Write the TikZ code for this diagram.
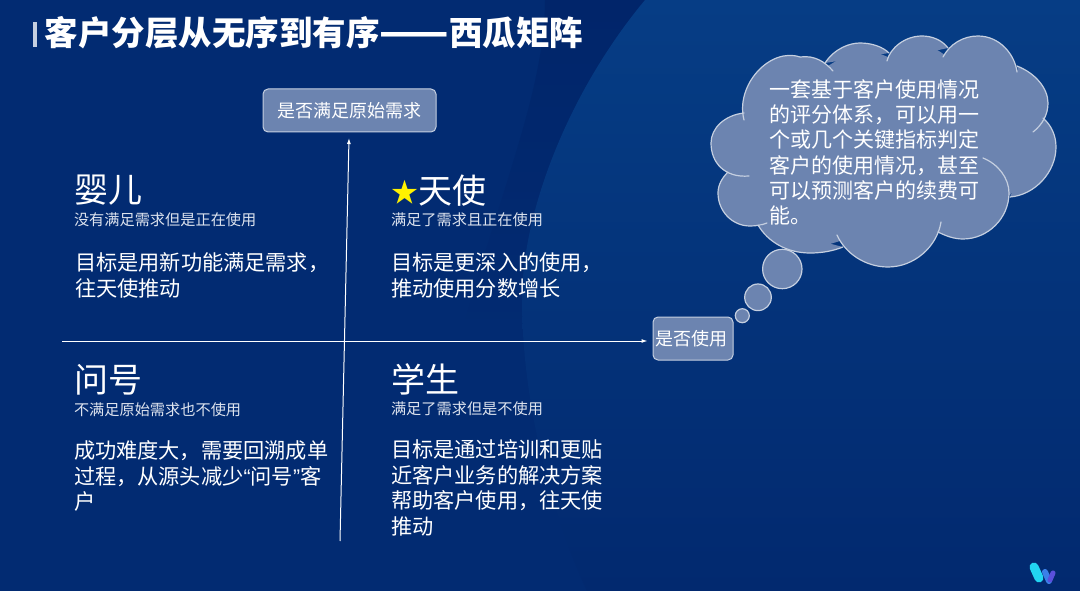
\documentclass[tikz,border=0pt]{standalone}
\usepackage{fontspec}
\setmainfont{Noto Sans CJK SC}
\newfontfamily\latinq{Liberation Sans}
\usetikzlibrary{arrows.meta}
\definecolor{bgdark}{HTML}{022B72}
\definecolor{bgband}{HTML}{01256A}
\definecolor{bgtop}{HTML}{063D85}
\definecolor{bgbot}{HTML}{02296F}
\definecolor{boxfill}{HTML}{6C84B0}
\definecolor{boxline}{HTML}{C5CFE0}
\definecolor{subtext}{HTML}{DDE3EE}
\definecolor{logoa}{HTML}{22D5F2}
\definecolor{logob}{HTML}{3A80E8}
\definecolor{logoc}{HTML}{5A50DC}
\tikzset{
  x=1pt,y=-1pt,
  txt/.style={text=white,inner sep=0pt,outer sep=0pt,anchor=north west,align=left},
  head/.style={txt,font=\fontsize{34}{34}\selectfont},
  sub/.style={txt,text=subtext,font=\fontsize{15.2}{18}\selectfont},
  body/.style={txt,font=\fontsize{21.2}{25.4}\selectfont},
  tag/.style={draw=boxline,fill=boxfill,line width=1pt,rounded corners=5pt,text=white,inner sep=0pt,font=\fontsize{18}{18}\selectfont},
  axis/.style={draw=white,line width=1pt,-{Latex[length=6pt,width=4pt]}},
  lobe/.style={draw=boxline,line width=1.2pt,line cap=round},
  puff/.style={circle,draw=boxline,fill=boxfill,line width=1.2pt,inner sep=0pt},
}
\def\la{(744,120) .. controls (735,85) and (770,47) .. (800,57) .. controls (815,55) and (825,62) .. (833,71)}
\def\lb{(825,63) .. controls (835,48) and (850,43) .. (860,43) .. controls (872,43) and (883,47) .. (889,53)}
\def\lc{(887,61) .. controls (890,48) and (905,36) .. (922,36) .. controls (932,36) and (942,40) .. (948,48)}
\def\ld{(943,57) .. controls (950,44) and (963,36) .. (978,36) .. controls (1000,36) and (1015,55) .. (1017,72)}
\def\le{(1017,66) .. controls (1035,73) and (1048,88) .. (1048,103) .. controls (1048,115) and (1042,125) .. (1033,132)}
\def\lf{(1043,118) .. controls (1051,125) and (1056,135) .. (1056,147) .. controls (1056,172) and (1035,195) .. (1010,197)}
\def\lg{(983,158) .. controls (998,164) and (1009,178) .. (1009,193) .. controls (1009,218) and (988,239) .. (963,239) .. controls (954,239) and (946,236) .. (938,232)}
\def\lh{(941,222) .. controls (937,247) and (914,267) .. (888,267) .. controls (865,267) and (845,253) .. (837,235)}
\def\li{(843,247) .. controls (833,251) and (822,253) .. (810,253) .. controls (787,253) and (768,242) .. (758,225)}
\def\lj{(767,223) .. controls (762,225) and (756,226) .. (750,226) .. controls (732,226) and (718,211) .. (718,193) .. controls (718,185) and (722,178) .. (728,172)}
\def\lk{(749,176) .. controls (725,178) and (711,163) .. (711,143) .. controls (711,128) and (725,115) .. (744,113)}
\begin{document}
\begin{tikzpicture}
\useasboundingbox (0,0) rectangle (1080,591);
\fill[bgdark] (0,0) rectangle (1080,591);
\shade[top color=bgband,bottom color=bgdark] (545,0) .. controls (545,90) and (500,190) .. (460,340) -- (540,340) -- (645,0) -- cycle;
\shade[top color=bgtop,bottom color=bgbot] (645,0) .. controls (570,90) and (522,210) .. (522,300) .. controls (522,400) and (550,510) .. (587,591) -- (1080,591) -- (1080,0) -- cycle;
% title
\fill[boxline] (33,22) rectangle (37,47);
\node[txt,font=\fontsize{33.5}{34}\selectfont\bfseries] (title) at (45,16) {客户分层从无序到有序{\fontsize{40.5}{34}\selectfont\raisebox{-1pt}{——}}西瓜矩阵};
% axes
\node[tag,minimum width=173pt,minimum height=43pt] (ytag) at (349.5,110.5) {是否满足原始需求};
\node[tag,minimum width=80pt,minimum height=43pt] (xtag) at (693,338.5) {\hspace*{-3pt}是否使用};
\coordinate (ystart) at (340,541);
\coordinate (xstart) at (62,341);
\coordinate (ytip) at (349,138);
\draw[axis] (ystart) -- (ytip);
\draw[axis,shorten >=5pt] (xstart) -- (xstart -| xtag.west);
% quadrants
\node[head] (q1) at (74,175) {婴儿};
\node[sub] (q1s) at (74,213) {没有满足需求但是正在使用};
\node[body] (q1b) at (75,253) {目标是用新功能满足需求，\\往天使推动};
\node[head] (q2) at (391,175) {\textcolor{yellow}{\fontsize{27}{34}\selectfont\raisebox{1.5pt}{★}}天使};
\node[sub] (q2s) at (391,213) {满足了需求且正在使用};
\node[body] (q2b) at (391,253) {目标是更深入的使用，\\推动使用分数增长};
\node[head] (q3) at (74,364) {问号};
\node[sub] (q3s) at (74,403) {不满足原始需求也不使用};
\node[body] (q3b) at (74,441) {成功难度大，需要回溯成单\\过程，从源头减少{\latinq “}问号{\latinq ”}客\\户};
\node[head] (q4) at (391,364) {学生};
\node[sub] (q4s) at (391,402) {满足了需求但是不使用};
\node[body] (q4b) at (391,440) {目标是通过培训和更贴\\近客户业务的解决方案\\帮助客户使用，往天使\\推动};
% cloud fill
\fill[boxfill] (744,116) -- (800,60) -- (828,66) -- (860,46) -- (888,57) -- (922,40) -- (945,55) -- (978,40) -- (1017,69) -- (1045,103) -- (1043,119) -- (1053,147) -- (1009,196) -- (963,235) -- (938,232) -- (888,262) -- (840,241) -- (810,250) -- (760,225) -- (722,193) -- (730,174) -- (715,143) -- cycle;
\fill[boxfill] \la -- cycle;
\fill[boxfill] \lb -- cycle;
\fill[boxfill] \lc -- cycle;
\fill[boxfill] \ld -- cycle;
\fill[boxfill] \le -- cycle;
\fill[boxfill] \lf -- cycle;
\fill[boxfill] \lg -- cycle;
\fill[boxfill] \lh -- cycle;
\fill[boxfill] \li -- cycle;
\fill[boxfill] \lj -- cycle;
\fill[boxfill] \lk -- cycle;
\draw[lobe] \la;
\draw[lobe] \lb;
\draw[lobe] \lc;
\draw[lobe] \ld;
\draw[lobe] \le;
\draw[lobe] \lf;
\draw[lobe] \lg;
\draw[lobe] \lh;
\draw[lobe] \li;
\draw[lobe] \lj;
\draw[lobe] \lk;
% cloud text
\node[txt,font=\fontsize{21}{25.3}\selectfont] (cloudtext) at (769,79.5) {一套基于客户使用情况\\的评分体系，可以用一\\个或几个关键指标判定\\客户的使用情况，甚至\\可以预测客户的续费可\\能。};
\node[puff,minimum size=39.4pt] (p1) at (782.3,269) {};
\node[puff,minimum size=26.6pt] (p2) at (758,297.3) {};
\node[puff,minimum size=14pt] (p3) at (742.3,315.7) {};
% logo
\draw[line width=6pt,line cap=round,draw=logob] (1045,572) -- (1049,581);
\draw[line width=5pt,line cap=round,draw=logoc] (1050,580) -- (1053,573);
\draw[line width=9pt,line cap=round,draw=logoa] (1034,567) -- (1039,578);
\end{tikzpicture}
\end{document}
